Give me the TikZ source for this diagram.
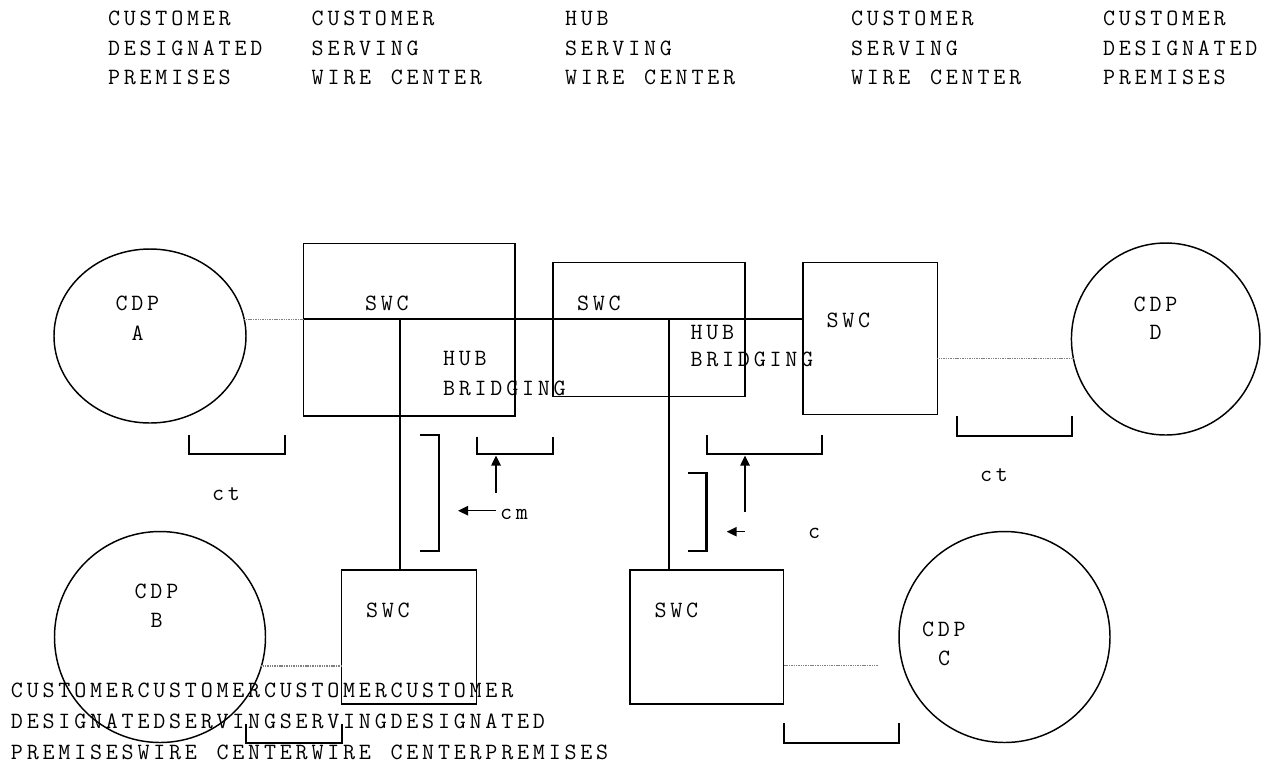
\documentclass[tikz,border=0pt]{standalone}
\usetikzlibrary{shapes.geometric,arrows.meta}
\newcommand{\mytt}{\ttfamily\fontsize{17.5}{20}\selectfont}
\newcommand{\spc}[1]{\spcloop#1\relax}
\def\spcloop#1{\ifx\relax#1\else#1\kern2.85pt\expandafter\spcloop\fi}
\newcommand{\spx}[1]{\expandafter\spc\expandafter{#1}}
\begin{document}
\begin{tikzpicture}[x=0.75pt,y=-0.75pt,
  txt/.style={font=\mytt, inner sep=0pt, outer sep=0pt, anchor=base west},
  boxn/.style={draw, rectangle, line width=1.1pt, inner sep=0pt, outer sep=0pt},
  cdp/.style={draw, ellipse, line width=1.1pt, inner sep=0pt, outer sep=0pt},
  trunk/.style={line width=1.5pt},
  brk/.style={line width=1.6pt},
  dotline/.style={draw=gray, line width=0.9pt, dash pattern=on 0.8pt off 0.5pt},
  arr/.style={line width=1.1pt, -{Triangle[length=7.5pt,width=7pt]}}]
\useasboundingbox (0,0) rectangle (1273,765);

% header columns
\foreach \x/\n/\a/\b/\c in {108/ha/CUSTOMER/DESIGNATED/PREMISES,
  311.7/hb/CUSTOMER/SERVING/WIRE~CENTER,
  565/hc/HUB/SERVING/WIRE~CENTER,
  851/hd/CUSTOMER/SERVING/WIRE~CENTER,
  1103/he/CUSTOMER/DESIGNATED/PREMISES}{
  \node[txt] (\n1) at (\x,25.5) {\spx{\a}};
  \node[txt] (\n2) at (\x,55) {\spx{\b}};
  \node[txt] (\n3) at (\x,84) {\spx{\c}};
}

% boxes
\node[boxn, minimum width=158.48pt, minimum height=129.5pt] (b1) at (409.35,329.65) {};
\node[boxn, minimum width=143.85pt, minimum height=100.8pt] (b2) at (648.9,329.5) {};
\node[boxn, minimum width=100.65pt, minimum height=114pt] (b3) at (870.3,338.3) {};
\node[boxn, minimum width=101.3pt, minimum height=100.5pt] (bB) at (409.15,637) {};
\node[boxn, minimum width=115.3pt, minimum height=100.5pt] (bC) at (706.85,637) {};

% circles
\node[cdp, minimum width=144pt, minimum height=130.5pt] (cA) at (150,336) {};
\node[cdp, minimum width=158.25pt, minimum height=158.25pt] (cB) at (160,637) {};
\node[cdp, minimum width=158.25pt, minimum height=158.25pt] (cC) at (1004.5,637) {};
\node[cdp, minimum width=141.4pt, minimum height=144pt] (cD) at (1165.7,339) {};

% trunk lines
\coordinate (pA) at (cA.10);
\coordinate (j1) at (400,0);
\coordinate (j2) at (668.7,0);
\draw[dotline] (pA) -- (pA -| b1.west);
\draw[trunk] (pA -| b1.west) -- (pA -| b3.west);
\draw[trunk] (pA -| j1) -- (j1 |- bB.north);
\draw[trunk] (pA -| j2) -- (j2 |- bC.north);
\draw[dotline] (b3.east |- cD.192) -- (cD.192);
\draw[dotline] (cB.-16) -- (cB.-16 -| bB.west);
\coordinate (dC) at (878,665.7);
\draw[dotline] (bC.east |- dC) -- (dC);

% brackets
\draw[brk] (189,435) -- (189,454.3) -- (285,454.3) -- (285,435);
\draw[brk] (420,435) -- (439,435) -- (439,551) -- (420,551);
\draw[brk] (477,436.7) -- (477,454.3) -- (553,454.3) -- (553,436.7);
\draw[brk] (688,473.3) -- (706.5,473.3) -- (706.5,550.7) -- (688,550.7);
\draw[brk] (707,435) -- (707,454.3) -- (822,454.3) -- (822,435);
\draw[brk] (957,416) -- (957,435.7) -- (1072,435.7) -- (1072,416);
\draw[brk] (246,724) -- (246,742.7) -- (341.6,742.7) -- (341.6,724);
\draw[brk] (783.7,723) -- (783.7,742.7) -- (899,742.7) -- (899,723);

% arrows
\coordinate (m0) at (496,492.7); \coordinate (m1) at (496,455.5);
\coordinate (m2) at (496,510.7); \coordinate (m3) at (458,510.7);
\coordinate (c0) at (745,511.7); \coordinate (c1) at (745,455.5);
\coordinate (c2) at (745,531.7); \coordinate (c3) at (726.7,531.7);
\draw[arr] (m0) -- (m1);
\draw[arr] (m2) -- (m3);
\draw[arr] (c0) -- (c1);
\draw[arr] (c2) -- (c3);

% labels
\node[txt] (tA1) at (115.5,310) {\spc{CDP}};
\node[txt] (tA2) at (131.5,340) {\spc{A}};
\node[txt] (tB1) at (134.7,598) {\spc{CDP}};
\node[txt] (tB2) at (150.7,627) {\spc{B}};
\node[txt] (tC1) at (922,636) {\spc{CDP}};
\node[txt] (tC2) at (938,665) {\spc{C}};
\node[txt] (tD1) at (1133.7,311.5) {\spc{CDP}};
\node[txt] (tD2) at (1149.7,339) {\spc{D}};
\node[txt] (s1) at (365,310) {\spc{SWC}};
\node[txt] (s2) at (577,310) {\spc{SWC}};
\node[txt] (s3) at (826.6,327.5) {\spc{SWC}};
\node[txt] (sB) at (366,617) {\spc{SWC}};
\node[txt] (sC) at (654.5,617) {\spc{SWC}};
\node[txt] (hb1) at (443,365.5) {\spc{HUB}};
\node[txt] (hb2) at (443,395.5) {\spc{BRIDGING}};
\node[txt] (hc1) at (690.5,339) {\spc{HUB}};
\node[txt] (hc2) at (690.5,366) {\spc{BRIDGING}};
\node[txt] (ct1) at (212,500.5) {\spc{ct}};
\node[txt] (ct2) at (980,481.5) {\spc{ct}};
\node[txt] (cm) at (500,519) {\spc{cm}};
\node[txt] (cc) at (808,538) {\spc{c}};

% bottom text
\node[txt] (f1) at (11,697) {\spc{CUSTOMERCUSTOMERCUSTOMERCUSTOMER}};
\node[txt] (f2) at (11,728) {\spc{DESIGNATEDSERVINGSERVINGDESIGNATED}};
\node[txt] (f3) at (11,759) {\spc{PREMISESWIRE~CENTERWIRE~CENTERPREMISES}};
\end{tikzpicture}
\end{document}
